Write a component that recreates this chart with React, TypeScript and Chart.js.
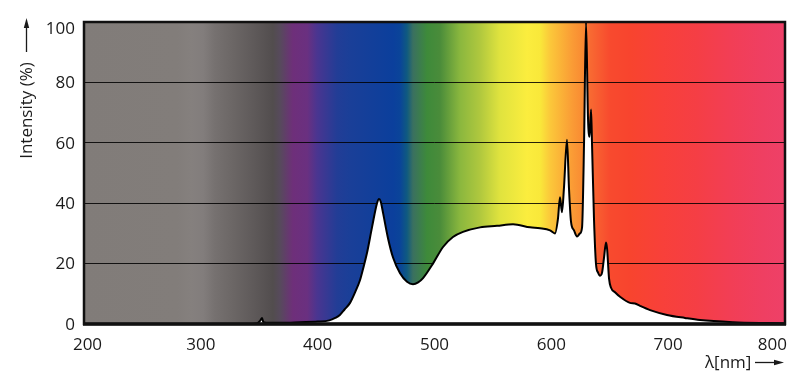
import React, { useEffect, useRef } from "react";
import { Chart, registerables } from "chart.js";

Chart.register(...registerables);

const wavelengths = [
  200, 340, 348, 351, 352.4, 353.5, 356, 370, 385, 400,
  410, 415, 419, 423, 427.7, 432, 436.2, 439, 442.2, 446.5,
  450.8, 452.5, 454, 456, 460.2, 464.5, 470.5, 476.5, 481.6, 486,
  490.2, 498.7, 507.3, 515.8, 524.4, 539, 553.5, 567.2, 581.8, 590.3,
  598.9, 603.1, 605.7, 607.4, 609.1, 610.8, 613.4, 615.1, 616.8, 619.4,
  622, 624.5, 626.3, 628, 629.7, 631.4, 632.7, 634, 634.8, 636.5,
  638.2, 640, 641.7, 643.4, 645.1, 646.8, 647.7, 649.4, 651.1, 654.5,
  658.8, 667.3, 671.6, 675.9, 684.5, 699, 714.4, 727.3, 755.5, 784.6,
  800,
];

const intensities = [
  0, 0, 0.2, 1.2, 2, 0.6, 0.4, 0.4, 0.6, 0.8,
  1.2, 2, 3, 4.8, 7, 10.5, 14.5, 18.5, 23.5, 32,
  40, 41.4, 40.5, 36.7, 28.4, 22, 16.8, 14, 13.2, 13.8,
  15.2, 20, 25.5, 28.8, 30.5, 32, 32.5, 33, 32, 31.7,
  31, 30, 35, 42, 37, 45, 61, 45, 34, 31,
  29, 30, 32, 60, 100, 68, 62, 71, 60, 35,
  20, 17, 16, 17, 22, 27, 25, 15, 12, 10.5,
  9, 7, 6.8, 6, 4.6, 3, 2, 1.3, 0.6, 0.3,
  0.2,
];

const xTicks = [200, 300, 400, 500, 600, 700, 800];
const yTicks = [0, 20, 40, 60, 80, 100];

const spectrumNm = [
  200, 279.6, 292, 302, 312, 328, 344.7, 361.8, 367.8, 378.9,
  391, 399.4, 416.6, 427.7, 464.5, 470.5, 476.5, 481.6, 493.6, 504.7,
  521.8, 539, 556, 579.2, 590.3, 598.9, 618.6, 627.1, 633.1, 650.2,
  667.3, 695.6, 724.7, 752.9, 781.2, 800,
];
const spectrumColors = [
  "#817c79", "#827d7a", "#85807e", "#827d7c", "#767170", "#6b6665", "#5f5a5a", "#524d4e", "#574a5c", "#6e2f7a",
  "#6a3080", "#4a3590", "#223d96", "#1a3f98", "#0b3f9c", "#0a4499", "#0f5a80", "#3a7060", "#3e8a3a", "#4a8c3a",
  "#8ab73e", "#b0c83e", "#e0e33e", "#fbed3e", "#f9e83a", "#fbc83a", "#fa9a35", "#f98a32", "#f86a32", "#f84a2e",
  "#f8442e", "#f8403a", "#f53e45", "#f23e55", "#ef3f62", "#ee4068",
];

const FONT = '"Open Sans", "Noto Sans", sans-serif';
const TEXT = "#1a1a1a";

const spectrumPlugin = {
  id: "spectrumBg",
  beforeDraw(chart: any) {
    const { ctx, chartArea, scales } = chart;
    const { left, right, top, bottom } = chartArea;
    const xs = scales.x;
    const g = ctx.createLinearGradient(left, 0, right, 0);
    spectrumNm.forEach((nm, i) => {
      const px = xs.getPixelForValue(nm);
      const t = Math.min(1, Math.max(0, (px - left) / (right - left)));
      g.addColorStop(t, spectrumColors[i]);
    });
    ctx.save();
    ctx.fillStyle = g;
    ctx.fillRect(left, top, right - left, bottom - top);
    ctx.restore();
  },
  afterDraw(chart: any) {
    const { ctx, chartArea, scales } = chart;
    const { left, right, top, bottom } = chartArea;
    ctx.save();
    ctx.strokeStyle = "#111";
    ctx.lineWidth = 2.5;
    ctx.strokeRect(left, top, right - left, bottom - top);
    ctx.lineWidth = 3.5;
    ctx.beginPath();
    ctx.moveTo(left - 1, bottom);
    ctx.lineTo(right + 1, bottom);
    ctx.stroke();

    ctx.fillStyle = TEXT;
    ctx.font = `17px ${FONT}`;
    ctx.textBaseline = "alphabetic";
    xTicks.forEach((v, i) => {
      const px = scales.x.getPixelForValue(v);
      if (i === 0) {
        ctx.textAlign = "center";
        ctx.fillText(String(v), px + 3.5, 350);
      } else if (i === xTicks.length - 1) {
        ctx.textAlign = "right";
        ctx.fillText(String(v), right + 2, 350);
      } else {
        ctx.textAlign = "center";
        ctx.fillText(String(v), px, 350);
      }
    });
    ctx.textAlign = "right";
    ctx.textBaseline = "middle";
    yTicks.forEach((v) => {
      const py = scales.y.getPixelForValue(v);
      const off = v === 100 ? 7 : 1;
      ctx.fillText(String(v), left - 9, py + off);
    });

    ctx.save();
    ctx.translate(27, 110.5);
    ctx.rotate(-Math.PI / 2);
    ctx.textAlign = "center";
    ctx.textBaseline = "middle";
    ctx.fillText("Intensity (%)", 0, 0);
    ctx.restore();
    ctx.strokeStyle = TEXT;
    ctx.lineWidth = 1.3;
    ctx.beginPath();
    ctx.moveTo(26.5, 52);
    ctx.lineTo(26.5, 26);
    ctx.stroke();
    ctx.beginPath();
    ctx.moveTo(26.5, 18);
    ctx.lineTo(23.8, 28);
    ctx.lineTo(29.2, 28);
    ctx.closePath();
    ctx.fill();

    ctx.textAlign = "left";
    ctx.textBaseline = "middle";
    ctx.fillText("λ[nm]", 705, 363);
    ctx.beginPath();
    ctx.moveTo(755, 362.5);
    ctx.lineTo(776, 362.5);
    ctx.stroke();
    ctx.beginPath();
    ctx.moveTo(784, 362.5);
    ctx.lineTo(774, 359.8);
    ctx.lineTo(774, 365.2);
    ctx.closePath();
    ctx.fill();
    ctx.restore();
  },
};

export default function App() {
  const ref = useRef<HTMLCanvasElement>(null);
  useEffect(() => {
    document.body.style.margin = "0";
    const canvas = ref.current;
    if (!canvas) return;
    const chart = new Chart(canvas, {
      type: "line",
      data: {
        datasets: [
          {
            data: wavelengths.map((x, i) => ({ x, y: intensities[i] })),
            borderColor: "#000",
            borderWidth: 2,
            backgroundColor: "#ffffff",
            fill: "origin",
            pointRadius: 0,
            cubicInterpolationMode: "monotone",
          },
        ],
      },
      options: {
        responsive: false,
        animation: false,
        events: [],
        layout: { padding: { top: 22, right: 15, left: 0, bottom: 0 } },
        plugins: { legend: { display: false }, tooltip: { enabled: false } },
        scales: {
          x: {
            type: "linear",
            min: 200,
            max: 800,
            grid: { display: false, drawTicks: false },
            border: { display: false },
            ticks: { display: false },
            afterBuildTicks: (s: any) => {
              s.ticks = xTicks.map((value) => ({ value }));
            },
            afterFit: (s: any) => {
              s.height = 68;
            },
          },
          y: {
            type: "linear",
            min: 0,
            max: 100,
            grid: { color: "rgba(0,0,0,0.85)", lineWidth: 1, drawTicks: false },
            border: { display: false },
            ticks: { display: false },
            afterBuildTicks: (s: any) => {
              s.ticks = yTicks.map((value) => ({ value }));
            },
            afterFit: (s: any) => {
              s.width = 84;
            },
          },
        },
      },
      plugins: [spectrumPlugin],
    } as any);
    return () => chart.destroy();
  }, []);
  return (
    <div style={{ position: "absolute", left: 0, top: 0, width: 800, height: 392, background: "#fff" }}>
      <canvas ref={ref} width={800} height={392} style={{ display: "block" }} />
    </div>
  );
}
